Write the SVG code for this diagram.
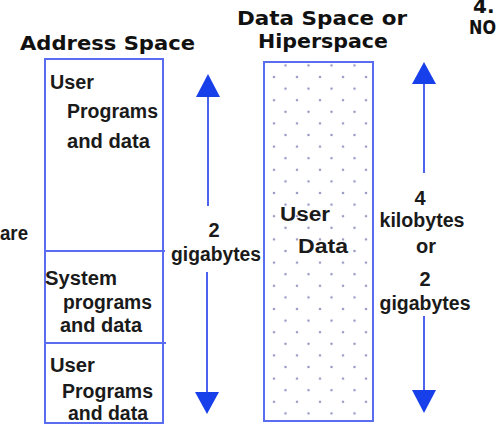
<svg xmlns="http://www.w3.org/2000/svg" width="500" height="424" viewBox="0 0 500 424">
  <defs>
    <pattern id="dots" x="274" y="77" width="23" height="23.2" patternUnits="userSpaceOnUse">
      <circle cx="0" cy="0" r="1.3" fill="#9a9cc6"/>
      <circle cx="23" cy="0" r="1.3" fill="#9a9cc6"/>
      <circle cx="0" cy="23.2" r="1.3" fill="#9a9cc6"/>
      <circle cx="23" cy="23.2" r="1.3" fill="#9a9cc6"/>
      <circle cx="11.5" cy="11.6" r="1.3" fill="#9a9cc6"/>
    </pattern>
  </defs>
  <style>
    .title { font-family: "DejaVu Sans", "Liberation Sans", sans-serif; font-weight: bold; font-size: 20px; fill: #111; }
    .body { font-family: "Liberation Sans", Arial, sans-serif; font-weight: bold; font-size: 20px; fill: #1a1a1a; }
    .box { fill: #fff; stroke: #5a6cf0; stroke-width: 2; }
    .div { stroke: #5a6cf0; stroke-width: 2; }
    .shaft { stroke: #4a62ee; stroke-width: 2; }
    .head { fill: #1740ea; }
  </style>
  <rect width="500" height="424" fill="#fff"/>

  <!-- headings -->
  <text class="title" x="20" y="50" textLength="175" lengthAdjust="spacingAndGlyphs">Address Space</text>
  <text class="title" x="237" y="25" textLength="170" lengthAdjust="spacingAndGlyphs">Data Space or</text>
  <text class="title" x="258" y="48" textLength="130" lengthAdjust="spacingAndGlyphs">Hiperspace</text>
  <text class="title" x="473" y="13" font-size="13">4.</text>
  <text class="title" x="469" y="34" font-size="19" textLength="27" lengthAdjust="spacingAndGlyphs">NO</text>
  <text class="body" x="0" y="240" font-size="18" textLength="28" lengthAdjust="spacingAndGlyphs">are</text>

  <!-- address space column -->
  <g id="address-space">
    <rect class="box" x="45" y="59" width="118" height="364"/>
    <line class="div" x1="45" y1="251" x2="165" y2="251"/>
    <line class="div" x1="45" y1="343" x2="166" y2="343"/>
    <text class="body" x="50" y="89" textLength="44" lengthAdjust="spacingAndGlyphs">User</text>
    <text class="body" x="67" y="118" textLength="91" lengthAdjust="spacingAndGlyphs">Programs</text>
    <text class="body" x="67" y="148" textLength="83" lengthAdjust="spacingAndGlyphs">and data</text>
    <text class="body" x="45" y="285" textLength="72" lengthAdjust="spacingAndGlyphs">System</text>
    <text class="body" x="63" y="309" textLength="89" lengthAdjust="spacingAndGlyphs">programs</text>
    <text class="body" x="60" y="332" textLength="82" lengthAdjust="spacingAndGlyphs">and data</text>
    <text class="body" x="50" y="372" textLength="45" lengthAdjust="spacingAndGlyphs">User</text>
    <text class="body" x="62" y="398" textLength="91" lengthAdjust="spacingAndGlyphs">Programs</text>
    <text class="body" x="68" y="420" textLength="80" lengthAdjust="spacingAndGlyphs">and data</text>
  </g>

  <!-- data space column -->
  <g id="data-space">
    <rect class="box" x="264" y="62" width="109" height="359"/>
    <rect x="265" y="63" width="107" height="357" fill="url(#dots)"/>
    <text class="body" x="280" y="221" textLength="50" lengthAdjust="spacingAndGlyphs">User</text>
    <text class="body" x="298" y="253" textLength="50" lengthAdjust="spacingAndGlyphs">Data</text>
  </g>

  <!-- size arrows -->
  <g id="connectors">
    <line class="shaft" x1="208" y1="95" x2="208" y2="206"/>
    <polygon class="head" points="208,74 196,97 220,97"/>
    <line class="shaft" x1="207" y1="272" x2="207" y2="395"/>
    <polygon class="head" points="207,414 195,392 219,392"/>

    <line class="shaft" x1="424" y1="80" x2="424" y2="173"/>
    <polygon class="head" points="424,62 412,84 436,84"/>
    <line class="shaft" x1="424" y1="316" x2="424" y2="392"/>
    <polygon class="head" points="424,413 412,390 436,390"/>
  </g>

  <g id="size-labels">
    <text class="body" x="214" y="237" text-anchor="middle" font-size="23">2</text>
    <text class="body" x="216" y="261" text-anchor="middle" font-size="18" textLength="90" lengthAdjust="spacingAndGlyphs">gigabytes</text>
    <text class="body" x="420" y="205" text-anchor="middle" font-size="23">4</text>
    <text class="body" x="422" y="227" text-anchor="middle" font-size="17" textLength="85" lengthAdjust="spacingAndGlyphs">kilobytes</text>
    <text class="body" x="426" y="253" text-anchor="middle" font-size="17">or</text>
    <text class="body" x="425" y="286" text-anchor="middle" font-size="23">2</text>
    <text class="body" x="425" y="310" text-anchor="middle" font-size="17" textLength="91" lengthAdjust="spacingAndGlyphs">gigabytes</text>
  </g>
</svg>
